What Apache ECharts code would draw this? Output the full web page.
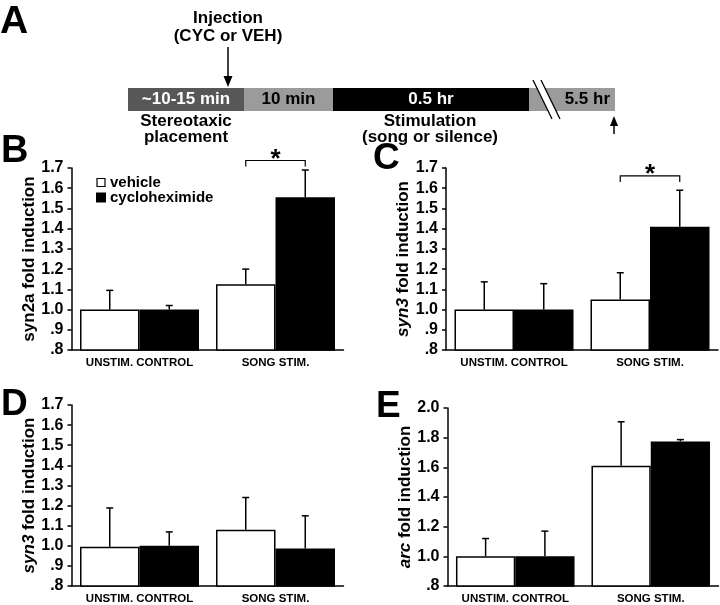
<!DOCTYPE html>
<html><head><meta charset="utf-8">
<script src="https://cdn.jsdelivr.net/npm/echarts@6/dist/echarts.min.js"></script>
<style>html,body{margin:0;padding:0;background:#fff}#c{width:720px;height:605px}</style>
</head><body><div id="c"></div>
<script>
// ---- data ----
const categories = ['UNSTIM. CONTROL', 'SONG STIM.'];
const seriesNames = ['vehicle', 'cycloheximide'];
// Panel B (syn2a)
const vehicleB = [1.0, 1.125];
const vehicleSemB = [0.095, 0.075];
const cycloB = [1.0, 1.555];
const cycloSemB = [0.02, 0.135];
const sigB = [[1, 1.737]];
// Panel C (syn3)
const vehicleC = [1.0, 1.05];
const vehicleSemC = [0.137, 0.132];
const cycloC = [1.0, 1.41];
const cycloSemC = [0.128, 0.18];
const sigC = [[1, 1.661]];
// Panel D (syn3)
const vehicleD = [0.995, 1.08];
const vehicleSemD = [0.193, 0.16];
const cycloD = [1.0, 0.987];
const cycloSemD = [0.069, 0.162];
// Panel E (arc)
const vehicleE = [1.0, 1.61];
const vehicleSemE = [0.12, 0.297];
const cycloE = [1.0, 1.775];
const cycloSemE = [0.17, 0.012];
// y-axis tick ranges
const yTicksBCD = [0.8, 1.7, 0.1];
const yTicksE = [0.8, 2.0, 0.2];
// Panel A timeline (schematic segment lengths, not to scale)
const timelineLabels = ['~10-15 min', '10 min', '0.5 hr', '5.5 hr'];
const timelineSpans = [116, 89, 196, 86];

// ---- styling ----
const FONT = '"Liberation Sans", Arial, sans-serif';
const GAP = 0.125;
const segColors = ['#575757', '#9b9b9b', '#000000', '#9b9b9b'];
const segText = ['#fff', '#000', '#fff', '#000'];

function fmt(v) {
  const r = Math.round(v * 10) / 10;
  if (r < 1) return '.' + Math.round(r * 10);
  return r.toFixed(1);
}

function yAxis(gi, tk, name, gap) {
  return {
    type: 'value', gridIndex: gi, min: tk[0], max: tk[1], interval: tk[2],
    axisLine: { show: true, lineStyle: { color: '#000', width: 1.5 } },
    axisTick: { show: true, length: 4, lineStyle: { color: '#000', width: 1.5 } },
    splitLine: { show: false },
    axisLabel: { color: '#000', fontWeight: 'bold', fontSize: 16, fontFamily: FONT, margin: 8, formatter: fmt },
    name: name, nameLocation: 'middle', nameGap: gap,
    nameTextStyle: { color: '#000', fontWeight: 'bold', fontSize: 17, fontFamily: FONT,
      rich: { i: { fontStyle: 'italic', fontWeight: 'bold', fontSize: 17, fontFamily: FONT, color: '#000' } } }
  };
}
function xAxis(gi) {
  return {
    type: 'category', gridIndex: gi, data: categories,
    axisLine: { show: true, lineStyle: { color: '#000', width: 1.5 } },
    axisTick: { show: false },
    axisLabel: { color: '#000', fontWeight: 'bold', fontSize: 11.5, fontFamily: FONT, margin: 7, interval: 0 }
  };
}
function bars(gi, veh, cyc) {
  return [
    { type: 'bar', name: seriesNames[0], xAxisIndex: gi, yAxisIndex: gi, data: veh,
      barGap: '0%', barCategoryGap: (GAP * 100) + '%',
      itemStyle: { color: '#fff', borderColor: '#000', borderWidth: 1.5 } },
    { type: 'bar', name: seriesNames[1], xAxisIndex: gi, yAxisIndex: gi, data: cyc,
      barGap: '0%', barCategoryGap: (GAP * 100) + '%',
      itemStyle: { color: '#000', borderColor: '#000', borderWidth: 1.5 } }
  ];
}
function errRender(params, api) {
  const cat = api.value(0), val = api.value(1), top = api.value(2), si = api.value(3);
  const band = api.size([1, 0])[0];
  const bw = band * (1 - GAP) / 2;
  const c = api.coord([cat, val]);
  const x = c[0] + (si - 0.5) * bw;
  const yt = api.coord([cat, top])[1];
  const st = { stroke: '#000', lineWidth: 1.5 };
  return { type: 'group', children: [
    { type: 'line', shape: { x1: x, y1: c[1], x2: x, y2: yt }, style: st },
    { type: 'line', shape: { x1: x - 3.5, y1: yt, x2: x + 3.5, y2: yt }, style: st }
  ] };
}
function errSeries(gi, veh, vs, cyc, cs) {
  const d = [];
  for (let i = 0; i < categories.length; i++) {
    d.push([i, veh[i], veh[i] + vs[i], 0]);
    d.push([i, cyc[i], cyc[i] + cs[i], 1]);
  }
  return { type: 'custom', xAxisIndex: gi, yAxisIndex: gi, data: d, z: 5, clip: false,
    encode: { x: 0, y: [1, 2] }, renderItem: errRender, silent: true };
}
function sigRender(params, api) {
  const cat = api.value(0), lvl = api.value(1);
  const band = api.size([1, 0])[0];
  const bw = band * (1 - GAP) / 2;
  const c = api.coord([cat, lvl]);
  const x0 = c[0] - bw / 2, x1 = c[0] + bw / 2, y = c[1];
  return { type: 'group', children: [
    { type: 'polyline', shape: { points: [[x0, y + 6], [x0, y], [x1, y], [x1, y + 6]] },
      style: { stroke: '#000', lineWidth: 1.2, fill: null } },
    { type: 'text', x: c[0], y: y - 14,
      style: { text: '*', fill: '#000', font: 'bold 26px ' + FONT, textAlign: 'center', textVerticalAlign: 'top' } }
  ] };
}
function sigSeries(gi, sig) {
  return { type: 'custom', xAxisIndex: gi, yAxisIndex: gi, data: sig, z: 5, clip: false,
    encode: { x: 0, y: 1 }, renderItem: sigRender, silent: true };
}

// timeline series (grid 4)
const tlSeries = timelineLabels.map((lab, i) => ({
  type: 'bar', name: 'tl' + i, xAxisIndex: 4, yAxisIndex: 4, stack: 'tl',
  data: [timelineSpans[i]], barCategoryGap: '0%', silent: true,
  itemStyle: { color: segColors[i] },
  label: { show: true, position: i === timelineLabels.length - 1 ? 'insideRight' : 'inside',
    distance: 5, formatter: lab, color: segText[i],
    fontWeight: 'bold', fontSize: 17, fontFamily: FONT }
}));
const tlTotal = timelineSpans.reduce((a, b) => a + b, 0);

function txt(x, y, t, size, align, lh) {
  return { type: 'text', x: x, y: y, z: 10,
    style: { text: t, fill: '#000', font: 'bold ' + size + 'px ' + FONT,
      textAlign: align || 'left', textVerticalAlign: 'top', lineHeight: lh || size } };
}
const stroke = { stroke: '#000', lineWidth: 1.5 };

const chart = echarts.init(document.getElementById('c'), null, { renderer: 'canvas' });
chart.setOption({
  animation: false,
  backgroundColor: '#fff',
  grid: [
    { left: 71.5, right: 376.5, top: 168, height: 182 },
    { left: 446, right: 2, top: 168, height: 182 },
    { left: 71.5, right: 376.5, top: 405, height: 182 },
    { left: 447.5, right: 1.5, top: 408, height: 181 },
    { left: 128, width: 487, top: 88, height: 23 }
  ],
  legend: {
    data: [
      { name: 'vehicle', icon: 'rect', itemStyle: { color: '#fff', borderColor: '#000', borderWidth: 1.2 } },
      { name: 'cycloheximide', icon: 'rect', itemStyle: { color: '#000' } }
    ],
    orient: 'vertical', left: 91, top: 170, itemWidth: 8, itemHeight: 8, itemGap: 0,
    selectedMode: false,
    textStyle: { color: '#000', fontWeight: 'bold', fontSize: 15, fontFamily: FONT, lineHeight: 14 }
  },
  xAxis: [xAxis(0), xAxis(1), xAxis(2), xAxis(3),
    { type: 'value', gridIndex: 4, min: 0, max: tlTotal, show: false }],
  yAxis: [
    yAxis(0, yTicksBCD, 'syn2a fold induction', 32),
    yAxis(1, yTicksBCD, '{i|syn3} fold induction', 30),
    yAxis(2, yTicksBCD, '{i|syn3} fold induction', 30),
    yAxis(3, yTicksE, '{i|arc} fold induction', 31),
    { type: 'category', gridIndex: 4, data: ['t'], show: false }
  ],
  series: [
    ...bars(0, vehicleB, cycloB), errSeries(0, vehicleB, vehicleSemB, cycloB, cycloSemB), sigSeries(0, sigB),
    ...bars(1, vehicleC, cycloC), errSeries(1, vehicleC, vehicleSemC, cycloC, cycloSemC), sigSeries(1, sigC),
    ...bars(2, vehicleD, cycloD), errSeries(2, vehicleD, vehicleSemD, cycloD, cycloSemD),
    ...bars(3, vehicleE, cycloE), errSeries(3, vehicleE, vehicleSemE, cycloE, cycloSemE),
    ...tlSeries
  ],
  graphic: [
    txt(0, 3, 'A', 39), txt(1, 133, 'B', 38), txt(373, 140, 'C', 37),
    txt(1, 386, 'D', 37), txt(376, 388, 'E', 37),
    txt(228, 9, 'Injection\n(CYC or VEH)', 17, 'center', 18),
    txt(186, 113, 'Stereotaxic\nplacement', 17, 'center', 16),
    txt(430, 113, 'Stimulation\n(song or silence)', 17, 'center', 16),
    // injection arrow
    { type: 'line', z: 10, shape: { x1: 228, y1: 47, x2: 228, y2: 77 }, style: stroke },
    { type: 'polygon', z: 10, shape: { points: [[223.5, 76], [232.5, 76], [228, 87]] }, style: { fill: '#000' } },
    // end arrow
    { type: 'line', z: 10, shape: { x1: 614, y1: 124, x2: 614, y2: 134 }, style: stroke },
    { type: 'polygon', z: 10, shape: { points: [[610, 126], [618, 126], [614, 116]] }, style: { fill: '#000' } },
    // break slashes
    { type: 'polygon', z: 10, shape: { points: [[533, 80], [541, 80], [560, 119], [552, 119]] }, style: { fill: '#fff' } },
    { type: 'line', z: 11, shape: { x1: 533, y1: 80, x2: 552, y2: 119 }, style: { stroke: '#000', lineWidth: 1.3 } },
    { type: 'line', z: 11, shape: { x1: 541, y1: 80, x2: 560, y2: 119 }, style: { stroke: '#000', lineWidth: 1.3 } }
  ]
});
</script></body></html>
